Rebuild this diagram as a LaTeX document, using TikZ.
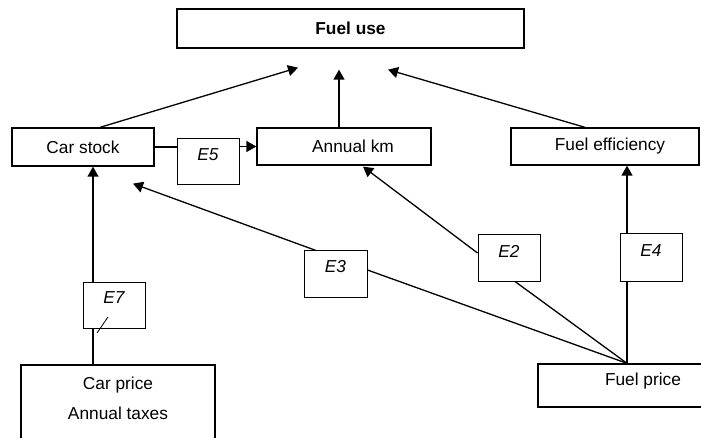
\documentclass[tikz,border=0pt]{standalone}
\usepackage{fontspec}
\setmainfont{Liberation Sans}
\usetikzlibrary{arrows.meta,calc}
\begin{document}
\begin{tikzpicture}[x=1pt,y=-1pt,
  box/.style={draw, line width=1.3pt, inner sep=0pt, font=\fontsize{17.3}{20}\selectfont},
  ebox/.style={draw, line width=1pt, inner sep=0pt, minimum width=62pt, minimum height=46pt, font=\fontsize{17.3}{20}\selectfont\itshape},
  conn/.style={line width=1.3pt},
  arr/.style={conn, -{Triangle[length=10pt,width=11pt]}}]
\useasboundingbox (0,0) rectangle (701,438);

% main boxes
\node[box, minimum width=347pt, minimum height=39pt, font=\fontsize{17.3}{20}\selectfont\bfseries] (fueluse) at (350.5,28.5) {Fuel use};
\node[box, minimum width=142pt, minimum height=38pt] (carstock) at (83,147) {Car stock};
\node[box, minimum width=174pt, minimum height=37pt] (annualkm) at (344,146.5) {\hspace*{18pt}Annual km};
\node[box, minimum width=188pt, minimum height=37pt] (fueleff) at (605,146.5) {\hspace*{10pt}Fuel efficiency};
\node[box, minimum width=210pt, minimum height=43pt] (fuelprice) at (643,385.5) {\raisebox{4pt}[\height][\depth]{Fuel price}};
\node[box, minimum width=194pt, minimum height=95pt] (carprice) at (118,412.5) {};
\node[align=center, font=\fontsize{17.3}{30}\selectfont, inner sep=0pt] (cptext) at (118,398) {Car price\\Annual taxes};

% elasticity boxes
\node[ebox] (e5) at (208,162) {\raisebox{7pt}[\height][\depth]{E5}};
\node[ebox] (e7) at (114,305) {\raisebox{7pt}[\height][\depth]{E7}};
\node[ebox, minimum width=63pt] (e3) at (335.5,274) {\raisebox{7pt}[\height][\depth]{E3}};
\node[ebox] (e2) at (509,258) {\raisebox{7pt}[\height][\depth]{E2}};
\node[ebox, minimum height=47pt] (e4) at (651,257.5) {\raisebox{7pt}[\height][\depth]{E4}};

% arrows into fuel use
\draw[arr] ([xshift=17pt]carstock.north) -- ([xshift=-52.5pt,yshift=-19pt]fueluse.south);
\draw[arr] ([xshift=-5pt]annualkm.north) -- ([xshift=-11.5pt,yshift=-21pt]fueluse.south);
\draw[arr] ([xshift=-20pt]fueleff.north) -- ([xshift=37.5pt,yshift=-21pt]fueluse.south);

% car stock -> annual km via E5
\draw[conn] (carstock.east) -- (carstock.east -| e5.west);
\draw[arr] (e5.east |- annualkm.west) -- (annualkm.west);

% car price -> car stock via E7
\draw[conn] ([xshift=-25pt]carprice.north) -- ([xshift=-25pt]carprice.north |- e7.south);
\draw[arr] ([xshift=-21pt]e7.north) -- ([xshift=10pt]carstock.south);
\draw[line width=0.8pt] ([xshift=-17pt,yshift=-28pt]e7.center) -- ([xshift=-6pt,yshift=-12pt]e7.center);

% fuel price connections
\coordinate (fp) at ([xshift=-16pt]fuelprice.north);
\draw[conn] (fp) -- ([yshift=4pt]e3.east);
\draw[arr] ([xshift=-19.5pt]e3.north) -- ([xshift=50pt,yshift=-17pt]carstock.south);
\draw[conn] (fp) -- ([xshift=6pt]e2.south);
\draw[arr] ([yshift=5pt]e2.west) -- ([xshift=19pt,yshift=-1pt]annualkm.south);
\draw[conn] (fp) -- (fp |- e4.south);
\draw[arr] (fp |- e4.north) -- (fp |- fueleff.south);
\end{tikzpicture}
\end{document}
